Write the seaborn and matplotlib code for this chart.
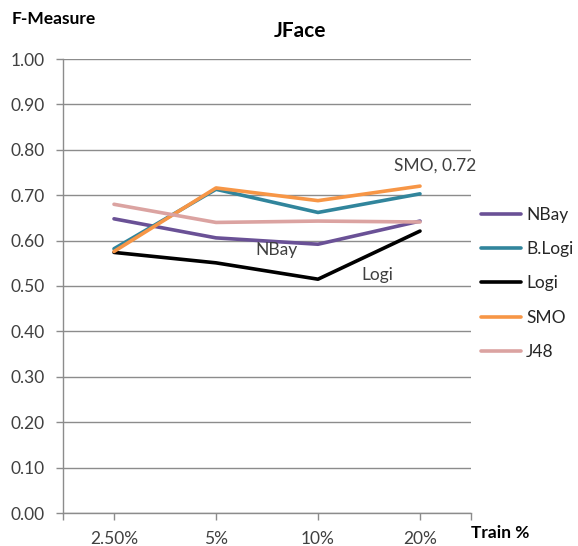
import matplotlib
matplotlib.use("Agg")
import matplotlib.pyplot as plt
import seaborn as sns
import pandas as pd

# Training-set fraction (x categories)
train_pct = ["2.50%", "5%", "10%", "20%"]

# F-Measure per classifier
nbay = [0.648, 0.606, 0.592, 0.643]
b_logi = [0.582, 0.713, 0.662, 0.703]
logi = [0.574, 0.551, 0.515, 0.621]
smo = [0.576, 0.716, 0.688, 0.72]
j48 = [0.680, 0.640, 0.643, 0.641]

models = ["NBay", "B.Logi", "Logi", "SMO", "J48"]
colors = ["#6A5196", "#31859C", "#000000", "#F79646", "#DBA3A1"]

y_ticks = [0.0, 0.1, 0.2, 0.3, 0.4, 0.5, 0.6, 0.7, 0.8, 0.9, 1.0]

series = {"NBay": nbay, "B.Logi": b_logi, "Logi": logi, "SMO": smo, "J48": j48}
rows = []
for name in models:
    for pct, val in zip(train_pct, series[name]):
        rows.append({"Train": pct, "F": val, "Model": name})
df = pd.DataFrame(rows)

sns.set_theme(style="white")
plt.rcParams["font.family"] = ["Lato", "DejaVu Sans"]

W, H = 578, 546
fig = plt.figure(figsize=(W / 100, H / 100), dpi=100)
ax = fig.add_axes([63 / W, (H - 513) / H, (471 - 63) / W, (513 - 59) / H])

sns.lineplot(data=df, x="Train", y="F", hue="Model", hue_order=models,
             palette=colors, linewidth=2.6, sort=False, ax=ax)

grid_col = "#8C8C8C"
label_col = "#404040"
ax.set_xlim(-0.5, 3.5)
ax.set_ylim(0, 1.0)
ax.set_yticks(y_ticks)
ax.set_yticklabels([f"{v:.2f}" for v in y_ticks])
ax.set_xticks([-0.5, 3.5], minor=True)
ax.yaxis.grid(True, color=grid_col, linewidth=1.0)
ax.xaxis.grid(False)
ax.set_axisbelow(True)
for side in ["top", "right"]:
    ax.spines[side].set_visible(False)
for side in ["left", "bottom"]:
    ax.spines[side].set_color(grid_col)
    ax.spines[side].set_linewidth(1.0)
ax.tick_params(axis="y", which="major", left=True, length=5, width=1.0,
               color=grid_col, pad=8, labelsize=12.5, labelcolor=label_col)
ax.tick_params(axis="x", which="major", bottom=True, length=5, width=1.0,
               color=grid_col, pad=8, labelsize=12.5, labelcolor=label_col)
ax.tick_params(axis="x", which="minor", bottom=True, length=5, width=1.0,
               color=grid_col)
ax.set_xlabel("")
ax.set_ylabel("")

# Legend at the right
handles, labels = ax.get_legend_handles_labels()
ax.get_legend().remove()
fig.legend(handles, labels, loc="center left",
           bbox_to_anchor=(481 / W, (H - 283.5) / H), frameon=False,
           fontsize=12.5, handlelength=2.3, handletextpad=0.3,
           labelspacing=1.05, borderpad=0, borderaxespad=0,
           labelcolor="#262626")

# Axis titles and chart title
fig.text(12 / W, (H - 19) / H, "F-Measure", fontsize=12.5, fontweight="bold",
         ha="left", va="center", color="#000000")
fig.text(300 / W, (H - 31) / H, "JFace", fontsize=15, fontweight="bold",
         ha="center", va="center", color="#000000")
fig.text(471 / W, (H - 533) / H, "Train %", fontsize=12.5, fontweight="bold",
         ha="left", va="center", color="#000000")

# Data labels
ax.annotate("NBay", xy=(2, nbay[2]), xytext=(-30, -4), textcoords="offset points",
            ha="center", va="center", fontsize=12.5, color=label_col)
ax.annotate("Logi", xy=(2, logi[2]), xytext=(43, 3), textcoords="offset points",
            ha="center", va="center", fontsize=12.5, color=label_col)
ax.annotate(f"SMO, {smo[3]:.2f}", xy=(3, smo[3]), xytext=(11, 15),
            textcoords="offset points", ha="center", va="center",
            fontsize=12.5, color=label_col)

fig.savefig("out.png", dpi=100)
